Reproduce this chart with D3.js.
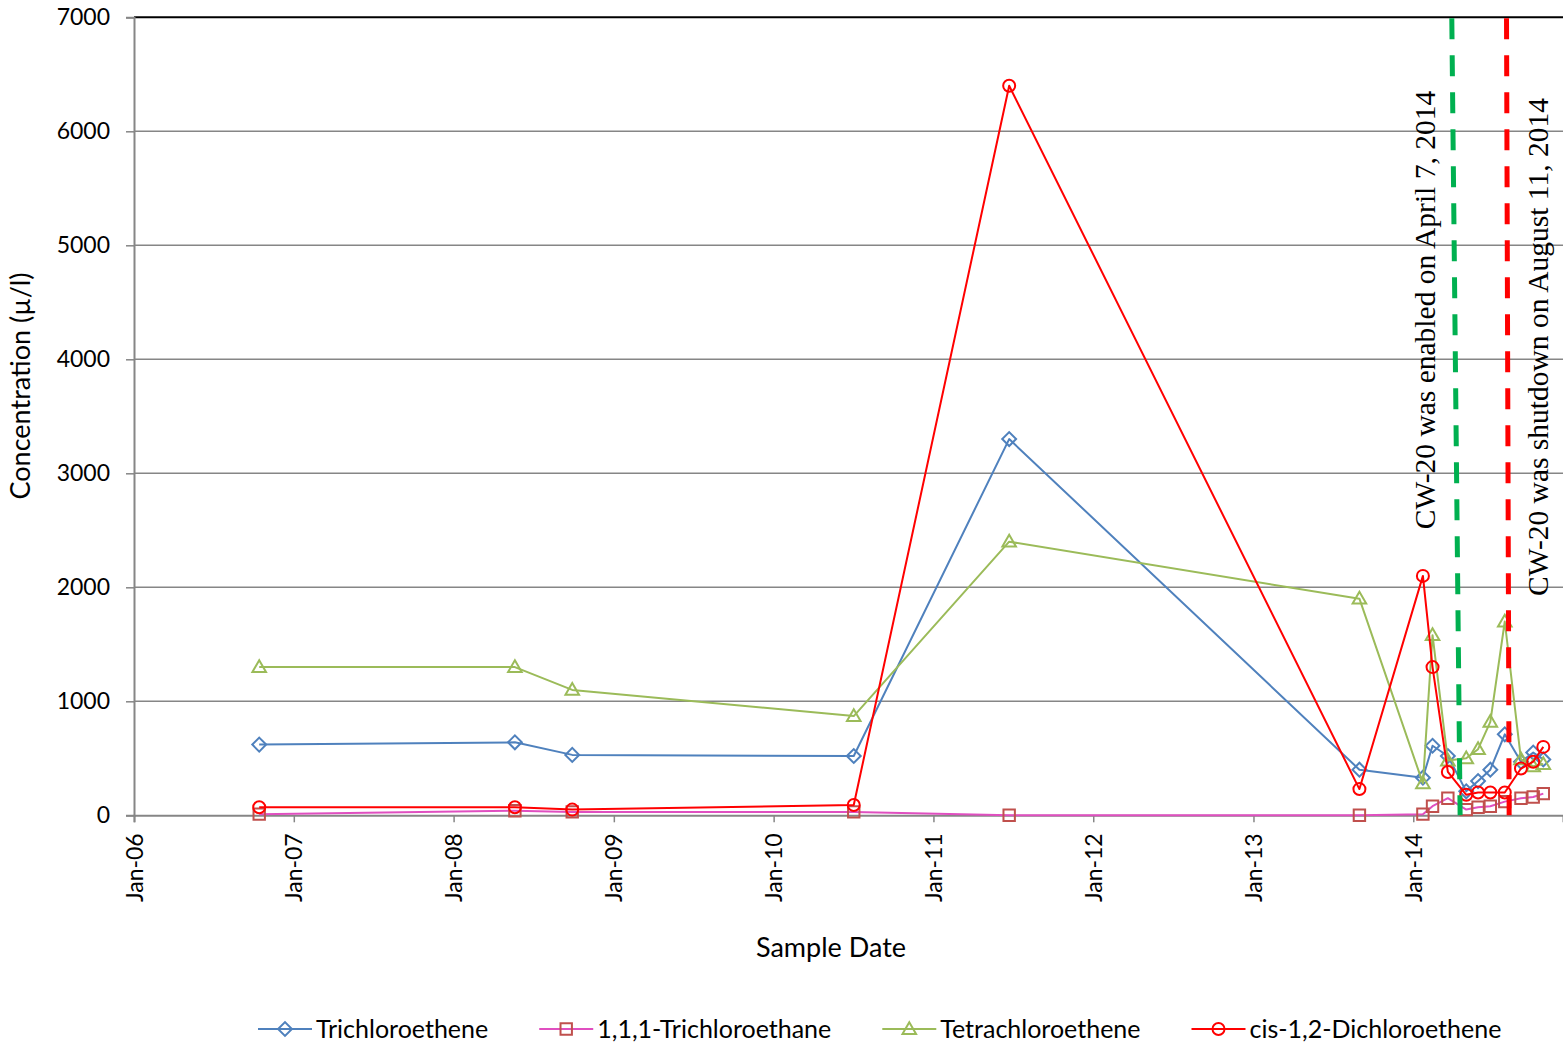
<!DOCTYPE html>
<html>
<head>
<meta charset="utf-8">
<script src="https://cdn.jsdelivr.net/npm/d3@7"></script>
<style>
  html, body { margin: 0; padding: 0; background: #fff; }
  svg { display: block; }
</style>
</head>
<body>
<div id="chart"></div>
<script>
// sample dates shared by all four series
const sampleDates = ['2006-10-14', '2008-05-20', '2008-09-28', '2010-07-03', '2011-06-23', '2013-08-31',
  '2014-01-23', '2014-02-14', '2014-03-21', '2014-05-02', '2014-05-29', '2014-06-26',
  '2014-07-29', '2014-09-04', '2014-10-02', '2014-10-25'];

const trichloroethene = [620, 640, 530, 520, 3300, 400, 330, 610, 520, 210, 300, 400, 710, 470, 550, 490];
const trichloroethane = [10, 40, 30, 30, 0, 0, 10, 80, 150, 50, 70, 80, 120, 150, 160, 190];
const tetrachloroethene = [1300, 1300, 1100, 870, 2400, 1900, 280, 1580, 480, 500, 580, 820, 1700, 490, 430, 450];
const dichloroethene = [70, 70, 50, 90, 6400, 230, 2100, 1300, 380, 180, 200, 200, 200, 410, 470, 600];

const seriesNames = ['Trichloroethene', '1,1,1-Trichloroethane', 'Tetrachloroethene', 'cis-1,2-Dichloroethene'];

const yTicks = [0, 1000, 2000, 3000, 4000, 5000, 6000, 7000];
const xTicks = ['2006-01-01', '2007-01-01', '2008-01-01', '2009-01-01', '2010-01-01',
  '2011-01-01', '2012-01-01', '2013-01-01', '2014-01-01'];

// the two hand drawn event lines (top / bottom end)
const eventLabels = ['CW-20 was enabled on April 7, 2014', 'CW-20 was shutdown on August 11, 2014'];
const eventTop = ['2014-03-30', '2014-08-02'];
const eventBottom = ['2014-04-18', '2014-08-08'];

const d3 = window.d3;
const parse = d3.timeParse('%Y-%m-%d');
const W = 1563, H = 1042;
const sans = "Lato, 'Open Sans', sans-serif";
const serif = "'Liberation Serif', 'Times New Roman', serif";

const svg = d3.select('#chart').append('svg')
  .attr('width', W).attr('height', H);

const x = d3.scaleTime()
  .domain([parse('2006-01-01'), parse('2014-12-09')])
  .range([134, 1563]);
const y = d3.scaleLinear().domain([0, 7000]).range([815.3, 17.3]);

const styles = [
  { line: '#4F81BD', mark: '#4F81BD', shape: 'diamond' },
  { line: '#E04FC0', mark: '#C0504D', shape: 'square' },
  { line: '#9BBB59', mark: '#9BBB59', shape: 'triangle' },
  { line: '#FF0000', mark: '#FF0000', shape: 'circle' }
];
const values = [trichloroethene, trichloroethane, tetrachloroethene, dichloroethene];

// Grid
svg.append('g').selectAll('line')
  .data(yTicks.filter(d => d > 0 && d < 7000)).enter().append('line')
  .attr('x1', 134).attr('x2', W)
  .attr('y1', d => y(d)).attr('y2', d => y(d))
  .attr('stroke', '#868686').attr('stroke-width', 1.5);

svg.append('line')
  .attr('x1', 134).attr('x2', W)
  .attr('y1', y(7000)).attr('y2', y(7000))
  .attr('stroke', '#000').attr('stroke-width', 2);

// Axes
const yAxis = svg.append('g').attr('transform', 'translate(134,0)')
  .call(d3.axisLeft(y).tickValues(yTicks).tickSize(8).tickPadding(16).tickFormat(d3.format('d')));
yAxis.select('.domain').attr('stroke', '#868686').attr('stroke-width', 2);
yAxis.selectAll('line').attr('stroke', '#868686').attr('stroke-width', 1.5);
yAxis.selectAll('text').attr('fill', '#000').attr('font-family', sans).attr('font-size', '23px');

const xAxis = svg.append('g').attr('transform', `translate(0,${y(0)})`)
  .call(d3.axisBottom(x).tickValues(xTicks.map(parse)).tickSize(7).tickFormat(d3.timeFormat('%b-%y')));
xAxis.select('.domain').attr('stroke', '#868686').attr('stroke-width', 2);
xAxis.selectAll('line').attr('stroke', '#868686').attr('stroke-width', 1.5);
xAxis.selectAll('text')
  .attr('fill', '#000').attr('font-family', sans).attr('font-size', '23px')
  .attr('transform', 'rotate(-90)')
  .attr('text-anchor', 'end')
  .attr('x', -18).attr('y', 0).attr('dy', '0.35em');

// Axis titles
svg.append('text')
  .attr('transform', 'translate(30,386) rotate(-90)')
  .attr('text-anchor', 'middle')
  .attr('font-family', sans).attr('font-size', '27px')
  .text('Concentration (\u00B5/l)');

svg.append('text')
  .attr('x', 831).attr('y', 957)
  .attr('text-anchor', 'middle')
  .attr('font-family', sans).attr('font-size', '27px')
  .text('Sample Date');

// Markers
function marker(sel, shape, color) {
  if (shape === 'circle') {
    sel.append('circle').attr('r', 6);
  } else if (shape === 'diamond') {
    sel.append('path').attr('d', d3.symbol(d3.symbolSquare, 96)()).attr('transform', 'rotate(45)');
  } else if (shape === 'square') {
    sel.append('path').attr('d', d3.symbol(d3.symbolSquare, 130)());
  } else {
    sel.append('path').attr('d', d3.symbol(d3.symbolTriangle, 80)()).attr('transform', 'translate(0,1)');
  }
  sel.selectAll('circle, path')
    .attr('fill', 'none').attr('stroke', color).attr('stroke-width', 2);
}

const line = d3.line().x(d => x(d.date)).y(d => y(d.v));

values.forEach((vals, i) => {
  const st = styles[i];
  const pts = sampleDates.map((d, j) => ({ date: parse(d), v: vals[j] }));
  const g = svg.append('g');
  g.append('path').datum(pts)
    .attr('fill', 'none').attr('stroke', st.line).attr('stroke-width', 2)
    .attr('stroke-linejoin', 'round')
    .attr('d', line);
  g.selectAll('.m').data(pts).enter().append('g')
    .attr('class', 'm')
    .attr('transform', d => `translate(${x(d.date)},${y(d.v)})`)
    .each(function() { marker(d3.select(this), st.shape, st.mark); });
});

// Event lines + labels
const eventColors = ['#00B050', '#FF0000'];
const labelOffset = [-21, 40];
eventLabels.forEach((lab, i) => {
  svg.append('line')
    .attr('x1', x(parse(eventTop[i]))).attr('y1', y(7000) + 1)
    .attr('x2', x(parse(eventBottom[i]))).attr('y2', y(0))
    .attr('stroke', eventColors[i]).attr('stroke-width', 5)
    .attr('stroke-dasharray', '21,16');
  const mid = (x(parse(eventTop[i])) + x(parse(eventBottom[i]))) / 2;
  svg.append('text')
    .attr('transform', `translate(${mid + labelOffset[i]},${i === 0 ? 310 : 347}) rotate(-90)`)
    .attr('text-anchor', 'middle')
    .attr('font-family', serif).attr('font-size', '29.5px')
    .text(lab);
});

// Legend
const legend = svg.append('g').attr('transform', 'translate(258,1029)');
let lx = 0;
seriesNames.forEach((name, i) => {
  const st = styles[i];
  const item = legend.append('g').attr('transform', `translate(${lx},0)`);
  item.append('line').attr('x1', 0).attr('x2', 54).attr('y1', 0).attr('y2', 0)
    .attr('stroke', st.line).attr('stroke-width', 2);
  const m = item.append('g').attr('transform', 'translate(27,0)');
  marker(m, st.shape, st.mark);
  const t = item.append('text')
    .attr('x', 58).attr('y', 0).attr('dy', '0.35em')
    .attr('font-family', sans).attr('font-size', '25px')
    .text(name);
  lx += 58 + t.node().getComputedTextLength() + 51;
});
</script>
</body>
</html>
